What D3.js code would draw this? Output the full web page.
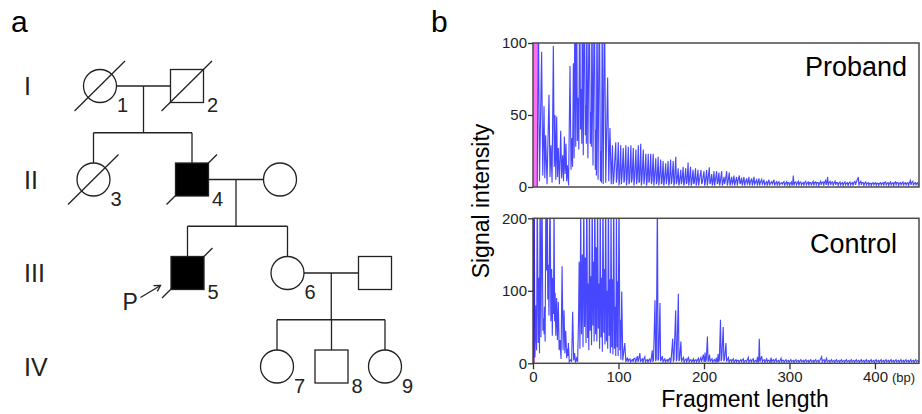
<!DOCTYPE html>
<html>
<head>
<meta charset="utf-8">
<script src="https://cdn.jsdelivr.net/npm/d3@7"></script>
<style>
  body { margin: 0; background: #fff; }
  svg { display: block; font-family: "Liberation Sans", Arial, sans-serif; }
</style>
</head>
<body>
<div id="fig"></div>
<script>
// Pedigree (panel a) and repeat-primed PCR traces (panel b)

// ---- pedigree data ----
const generations = ["I", "II", "III", "IV"];
// col is a layout slot along the row, gen is the generation index
const people = [
  { id: "1",  gen: 0, col: 1.0,   sex: "F", affected: false, dead: true },
  { id: "2",  gen: 0, col: 9.7,   sex: "M", affected: false, dead: true },
  { id: "3",  gen: 1, col: 0.35,  sex: "F", affected: false, dead: true },
  { id: "4",  gen: 1, col: 10.2,  sex: "M", affected: true,  dead: true },
  { id: "4s", gen: 1, col: 19.0,  sex: "F", affected: false, dead: false, nolabel: true },
  { id: "5",  gen: 2, col: 9.75,  sex: "M", affected: true,  dead: true, proband: true },
  { id: "6",  gen: 2, col: 19.75, sex: "F", affected: false, dead: false },
  { id: "6s", gen: 2, col: 28.5,  sex: "M", affected: false, dead: false, nolabel: true },
  { id: "7",  gen: 3, col: 18.7,  sex: "F", affected: false, dead: false },
  { id: "8",  gen: 3, col: 24.15, sex: "M", affected: false, dead: false },
  { id: "9",  gen: 3, col: 29.5,  sex: "F", affected: false, dead: false }
];
const couples = [["1", "2"], ["4", "4s"], ["6", "6s"]];
const children = [["3", "4"], ["5", "6"], ["7", "8", "9"]];

// ---- trace data (bp, signal) ----
// peak/trough vertices of the dense start of each trace
const probandHead = [
  [5,0],[6.2,135],[7.6,4],[10.1,94],[11.4,8],[12.9,56],[13.8,6],[14.8,36],[16.4,2],[18.7,64],
  [19.9,7],[21,29],[22.3,3],[23.8,98],[24.9,14],[25.7,50],[26.7,5],[27.7,49],[28.7,7],[29.6,27],
  [30.9,2],[32.4,39],[33.5,6],[34.7,22],[35.7,4],[36.7,35],[37.6,9],[38.6,30],[39.4,4],[40.2,15],
  [41.6,1],[43.3,84],[44.5,12],[45.6,34],[46.3,14],[47.2,86],[48.1,20],[49,135],[50,28],[51,140],
  [51.9,32],[52.8,62],[53.6,26],[54.6,150],[55.6,40],[56.5,68],[57.1,30],[57.7,135],[58.8,22],[60,150],
  [61.2,36],[61.9,57],[62.4,30],[62.9,125],[64.2,20],[65.8,140],[67,30],[67.8,52],[68.3,28],[68.9,130],
  [70.2,15],[71.7,145],[72.9,12],[73.6,40],[74.2,8],[74.8,130],[76.1,5],[77.6,140],[78.9,4],[79.6,25],
  [80.2,3],[80.9,120],[82.1,2],[83.6,135],[85.1,3],[87.3,76],[88.6,4],[90,41],[91.5,2]
];
// repeating tail: [bp, peak, trough, small bump]
const probandTail = [
  [93.0,29,2,5],[96.8,31,3,6],[99.8,31,1,5],[102.6,29,2,7],[105.6,27,3,5],[108.6,29,1,6],
  [111.5,28,2,4],[114.5,29,3,6],[117.3,27,1,5],[120.4,26,2,6],[123.2,29,3,4],[126.0,30,1,5],
  [129.0,26,2,6],[132.0,23,1,4],[134.8,23,3,5],[137.7,23,2,4],[140.6,23,1,5],[143.6,20,2,4],
  [146.4,21,1,5],[149.4,19,2,3],[152.2,18,1,4],[155.2,16.5,2,5],[158.0,18,1,3],[161.0,19,2,4],
  [164.0,18,1,3],[167.0,21,2,4],[169.8,13,1,3],[172.8,12,2,4],[175.6,14,1,3],[178.6,13,2,3],
  [181.4,17,1,4],[184.3,14,1,3],[187.2,12,2,3],[190.1,13,1,3],[193.0,12,1,4],[196.5,11.8,2,3],
  [200.0,11,1,3],[203.1,11.8,1,4],[206.2,13.7,2,3],[209.0,9,1,3],[211.7,11,1,4],[214.8,11,2,3],
  [217.5,10,1,3],[220.7,11,1,3],[223.4,7,2,4],[226.5,11,1,3],[229.6,10,1,3],[232.4,7,2,3],
  [235.1,8,1,3],[238.2,7,1,4],[241.3,8,2,3],[244.0,6.5,1,3],[246.8,7,1,3],[249.9,6,2,3],
  [252.6,7,1,3],[255.8,6,1,3],[258.5,7,2,3],[261.6,5,1,3],[264.3,6,1,3],[267.5,5.3,2,3],
  [270.2,5,1,2.5],[273.3,3.7,1,3],[276.0,5,1,2.5],[279.2,3.7,2,3],[281.9,5,1,2.5],[285.0,3.7,1,3],
  [287.7,3.7,1,2.5],[290.9,3,2,3],[293.6,3.7,1,2.5],[296.7,3.7,1,3],[299.4,3,1,2.5],[302.2,3.5,1,2.5],
  [304.5,8,1,3],[307.4,3.5,1.5,2.5],[310.3,4,1,3],[313.2,3.5,1.5,2.5],[316.1,3,1,3],[319.0,4,1.5,2.5],
  [321.9,3.5,1,3],[324.8,3,1.5,2.5],[327.7,4,1,3],[330.6,3.5,1.5,3],[333.5,3,1,2.5],[336.4,4,1.5,3],
  [339.3,3.5,1,3],[342.2,4.5,1.5,3],[344.6,7,1,3],[347.5,4,1.5,3],[350.4,3.5,1,2.5],[353.3,4,1.5,3],
  [356.2,3,1,2.5],[359.1,3.5,1.5,2.5],[362.0,3,1,2.5],[364.9,3.5,1.5,2.5],[367.8,3,1,2.5],[370.7,3.5,1.5,2.5],
  [373.6,3,1,3],[376.5,4,1.5,3],[380.5,7,1,3],[383.4,4,1.5,3],[386.3,3,1,2.5],[389.2,3.5,1.5,2.5],
  [392.1,3,1,2.5],[395.0,2.5,1,2.5],[397.9,3,1.5,2.5],[400.8,3,1,2.5],[403.7,2.5,1,2.5],[406.6,3,1.5,2.5],
  [409.5,3,1,3],[412.4,3.5,1.5,2.5],[415.3,3,1,2.5],[418.2,3.5,1.5,2.5],[421.1,3,1,2.5],[424.0,3.5,1.5,3],
  [426.9,3,1,2.5],[429.8,3,1.5,2.5],[432.7,3.5,1,2.5],[435.6,3,1.5,2.5],[438.5,3,1,2.5],[441.4,4.5,1.5,3],
  [444.3,4,1,2.5],[447.2,3,1.5,2.5],[450.0,3,1,2]
];

const controlHead = [
  [0.6,0],[1.2,260],[2.3,8],[3.5,80],[4.2,18],[5,250],[6.1,28],[7,118],[7.6,14],[8.3,260],
  [9.3,36],[10.5,250],[11.6,45],[12.4,62],[13.0,40],[13.4,78],[14.2,30],[15.2,260],[16,128],[16.7,240],
  [17.3,88],[17.9,136],[18.7,66],[19.9,250],[20.9,58],[21.8,130],[22.6,38],[23.3,118],[24,68],[24.6,230],
  [25.3,58],[25.9,97],[26.7,38],[27.6,90],[28.6,32],[29.6,85],[30.6,18],[31.6,32],[32.8,6],[34,134],
  [35.2,18],[36.3,73],[37.3,14],[38.3,45],[39.4,7],[40.3,20],[40.8,10],[41.4,28],[42.4,2],[44.4,5],
  [45.2,2],[46.4,71],[47.6,4],[48.6,14],[49.8,1],[51,7],[52.2,2],[53.3,62],[54,140],[54.9,20],
  [55.8,215],[56.7,40],[57.7,150],[58.5,22],[59.4,232],[60.3,50],[61.2,146],[62,28],[62.9,250],[63.8,35],
  [64.7,110],[65.3,18],[66,240],[66.9,45],[67.8,120],[68.5,25],[69.2,250],[70.1,52],[70.8,140],[71.5,30],
  [72.3,250],[73.2,40],[74,160],[74.7,30],[75.5,240],[76.4,48],[77.2,110],[77.9,20],[78.6,230],[79.6,36],
  [80.4,118],[81.1,16],[81.8,250],[82.8,42],[83.6,130],[84.2,26],[85,250],[85.9,30],[86.7,100],[87.4,20],
  [88.2,240],[89.1,38],[89.8,116],[90.5,14],[91.3,220],[92.1,22],[92.8,116],[93.5,12],[94.4,250],[95.3,20],
  [96.1,78],[96.8,10],[97.6,210],[98.4,22],[99,113],[99.6,10],[100.6,240],[101.6,18],[102.2,60],[102.8,5],
  [103.8,99],[105,4],[107.4,28],[108.6,2]
];
const controlTail = [
  [110.5,8,2,5],[113.4,6,1,4],[116.3,5,2,6],[119.2,7,1,4],[122.1,10,2,5],[125.0,14,2,4],
  [127.9,6,1,5],[130.8,9,2,4],[133.7,5,1,4],[136.6,6,2,3],[139.5,18,2,5],[142.7,87,3,6],
  [145.5,230,4,6],[148.5,83,3,5],[151.3,10,2,4],[154.2,6,1,4],[157.1,5,2,5],[160.0,7,1,4],
  [163.4,34,2,5],[166.9,73,3,6],[170.0,96,3,5],[173.0,30,2,5],[176.0,8,1,4],[179.0,6,2,4],
  [181.9,9,1,4],[184.8,5,2,3],[187.7,6,1,4],[190.6,5,2,4],[193.5,7,1,4],[196.4,8,2,5],
  [199.3,12,2,4],[201.2,15,2,5],[204.0,37,2,5],[206.5,12,2,4],[209.4,6,1,4],[212.3,5,2,4],
  [214.5,8,1,4],[216.5,13,2,5],[219.3,60,3,6],[222.5,50,3,5],[225.7,28,2,5],[228.6,8,1,4],
  [231.5,5,2,4],[234.4,6,1,3],[237.3,5,2,4],[240.2,4,1,3],[243.1,5,2,4],[246.0,6,1,3],
  [248.9,4,2,4],[251.8,8,1,3],[254.7,5,2,4],[257.6,6,1,3],[260.5,4,2,4],[262.5,9,1,4],
  [264.7,34,2,5],[267.5,10,2,4],[270.4,5,1,3],[273.3,6,2,4],[276.2,4,1,3],[278.5,8,2,4],
  [281.4,5,1,3],[284.3,6,2,3],[287.2,4,1,3],[290.1,7,2,4],[293.0,4,1,3],[295.9,5,2,3],
  [298.8,4,1,3],[301.7,5,2,3],[304.6,4,1,3],[307.5,5,2,3],[310.4,4,1,3],[313.3,5,2,3],
  [316.2,4,1,3],[319.1,5,2,3],[322.0,4,1,3],[324.9,5,2,3],[327.8,4,1,3],[330.7,5,2,3],
  [333.6,4,1,3],[337.6,9,2,4],[340.5,5,1,3],[343.4,7,2,3],[346.3,4,1,3],[349.2,5,2,3],
  [352.1,4,1,3],[355.0,5,2,3],[357.9,4,1,3],[360.8,5,2,3],[363.7,4,1,3],[366.6,5,2,3],
  [369.5,4,1,3],[372.4,5,2,3],[375.3,4,1,3],[378.2,5,2,3],[381.1,4,1,3],[384.0,5,2,3],
  [386.9,4,1,3],[389.8,5,2,3],[392.7,4,1,3],[395.6,5,2,3],[398.5,4,1,3],[401.4,5,2,3],
  [404.3,4,1,3],[407.2,5,2,3],[410.1,4,1,3],[413.0,5,2,3],[415.9,4,1,3],[418.8,5,2,3],
  [421.7,4,1,3],[424.6,5,2,3],[427.5,4,1,3],[430.4,5,2,3],[433.3,4,1,3],[436.2,5,2,3],
  [439.1,4,1,3],[442.0,5,2,3],[444.9,4,1,3],[447.8,5,2,3],[450.5,4,1,2]
];

const xTicks = [0, 100, 200, 300, 400];
const probandTicks = [0, 50, 100];
const controlTicks = [0, 100, 200];

const width = 922, height = 414;
const font = '"Liberation Sans", Arial, sans-serif';

const svg = d3.select("#fig").append("svg")
  .attr("width", width)
  .attr("height", height)
  .attr("viewBox", `0 0 ${width} ${height}`);

svg.append("rect").attr("width", width).attr("height", height).attr("fill", "#fff");

// panel letters
svg.append("text").attr("x", 11).attr("y", 32).attr("font-size", 30).text("a");
svg.append("text").attr("x", 431).attr("y", 32).attr("font-size", 30).text("b");

// ---------------- panel a: pedigree ----------------
const pedX = d3.scaleLinear([0, 30], [90, 390]);
const pedY = d3.scaleLinear([0, 3], [86, 366.5]);
const r = 16.5;
const ink = "#222";
const byId = new Map(people.map(d => [d.id, d]));
const px = d => pedX(d.col), py = d => pedY(d.gen);

const ped = svg.append("g")
  .attr("stroke", ink)
  .attr("stroke-width", 1.3)
  .attr("fill", "none");

ped.selectAll("text.gen")
  .data(generations)
  .join("text")
    .attr("class", "gen")
    .attr("x", 24)
    .attr("y", (d, i) => pedY(i) + 9)
    .attr("font-size", 25)
    .attr("fill", ink)
    .attr("stroke", "none")
    .text(d => d);

// marriage lines and lines of descent
couples.forEach(([a, b], i) => {
  const A = byId.get(a), B = byId.get(b);
  const y = py(A);
  ped.append("line").attr("x1", px(A) + r).attr("x2", px(B) - r).attr("y1", y).attr("y2", y);
  const mid = (px(A) + px(B)) / 2;
  const kids = children[i].map(id => byId.get(id));
  const sibY = (y + py(kids[0])) / 2;
  ped.append("line").attr("x1", mid).attr("x2", mid).attr("y1", y).attr("y2", sibY);
  ped.append("line")
    .attr("x1", d3.min(kids, px)).attr("x2", d3.max(kids, px))
    .attr("y1", sibY).attr("y2", sibY);
  kids.forEach(k => {
    ped.append("line").attr("x1", px(k)).attr("x2", px(k)).attr("y1", sibY).attr("y2", py(k) - r);
  });
});

// individuals
const ind = ped.selectAll("g.ind")
  .data(people)
  .join("g")
    .attr("class", "ind")
    .attr("transform", d => `translate(${px(d)},${py(d)})`);

const slash = sel => sel.append("line")
  .attr("x1", -25.5).attr("y1", 25).attr("x2", 25).attr("y2", -25);

// filled symbols hide the middle of their slash
slash(ind.filter(d => d.dead && d.affected));
ind.filter(d => d.sex === "F").append("circle")
  .attr("r", r)
  .attr("fill", d => d.affected ? "#000" : "#fff");
ind.filter(d => d.sex === "M").append("rect")
  .attr("x", -r).attr("y", -r).attr("width", 2 * r).attr("height", 2 * r)
  .attr("fill", d => d.affected ? "#000" : "#fff");
slash(ind.filter(d => d.dead && !d.affected));

ind.filter(d => !d.nolabel).append("text")
  .attr("x", d => d.sex === "F" ? 17 : 20)
  .attr("y", 26)
  .attr("font-size", 20)
  .attr("fill", ink)
  .attr("stroke", "none")
  .text(d => d.id);

// proband arrow
const pb = ind.filter(d => d.proband);
pb.append("line").attr("x1", -47).attr("y1", 24.5).attr("x2", -27).attr("y2", 12.5);
pb.append("path").attr("d", "M-34,12.6L-27,12.5L-30.2,18.4");
pb.append("text")
  .attr("x", -65).attr("y", 36.5)
  .attr("font-size", 23)
  .attr("fill", ink)
  .attr("stroke", "none")
  .text("P");

// ---------------- panel b: traces ----------------
const x = d3.scaleLinear([0, 451.5], [533, 919]);
const plots = [
  { name: "Proband", head: probandHead, tail: probandTail, ticks: probandTicks,
    y: d3.scaleLinear([0, 100], [187, 43]), labelX: 907, labelY: 76 },
  { name: "Control", head: controlHead, tail: controlTail, ticks: controlTicks,
    y: d3.scaleLinear([0, 200], [363.3, 218.3]), labelX: 897, labelY: 253 }
];

plots.forEach((p, i) => {
  const [y0, y1] = p.y.range();
  const g = svg.append("g");
  const clipId = "clip" + i;
  svg.append("clipPath").attr("id", clipId)
    .append("rect")
      .attr("x", x(0)).attr("y", y1)
      .attr("width", x.range()[1] - x(0)).attr("height", y0 - y1);

  if (i === 0) {
    g.append("rect")
      .attr("x", x(0)).attr("y", y1)
      .attr("width", x(5) - x(0)).attr("height", y0 - y1)
      .attr("fill", "#ff70ee");
  } else {
    g.append("line")
      .attr("x1", x(0) + 0.8).attr("x2", x(0) + 0.8)
      .attr("y1", y1).attr("y2", y0)
      .attr("stroke", "#a3107c").attr("stroke-width", 1.6);
  }

  // build the trace: head vertices then tail rows (peak, trough, bump)
  const pts = p.head.slice();
  p.tail.forEach(([bp, pk, lo, bu]) => {
    pts.push([bp, pk], [bp + 0.75, lo], [bp + 1.5, bu]);
  });
  const line = d3.line().x(d => x(d[0])).y(d => p.y(d[1]));

  g.append("path")
    .datum(pts)
    .attr("clip-path", `url(#${clipId})`)
    .attr("fill", "none")
    .attr("stroke", "#0000ff")
    .attr("stroke-opacity", 0.72)
    .attr("stroke-width", 1.15)
    .attr("stroke-linejoin", "miter")
    .attr("d", line);

  // frame
  g.append("rect")
    .attr("x", x(0)).attr("y", y1)
    .attr("width", x.range()[1] - x(0)).attr("height", y0 - y1)
    .attr("fill", "none")
    .attr("stroke", "#4a4a4a")
    .attr("stroke-width", 1.5);

  const ax = g.append("g")
    .attr("transform", `translate(${x(0)},0)`)
    .call(d3.axisLeft(p.y).tickValues(p.ticks).tickSize(5).tickPadding(1));
  ax.select(".domain").remove();
  ax.selectAll("line").attr("stroke", "#333").attr("stroke-width", 1.3);
  ax.selectAll("text").attr("font-size", 15).attr("font-family", font).attr("fill", "#222");

  g.append("text")
    .attr("x", p.labelX).attr("y", p.labelY)
    .attr("text-anchor", "end")
    .attr("font-size", 27)
    .text(p.name);

  if (i === 1) {
    const bx = g.append("g")
      .attr("transform", `translate(0,${y0})`)
      .call(d3.axisBottom(x).tickValues(xTicks).tickSize(6).tickPadding(2));
    bx.select(".domain").remove();
    bx.selectAll("line").attr("stroke", "#333").attr("stroke-width", 1.3);
    bx.selectAll("text").attr("font-size", 15).attr("font-family", font).attr("fill", "#222");
    g.append("text")
      .attr("x", x(400) + 17).attr("y", y0 + 18.5)
      .attr("font-size", 13)
      .attr("fill", "#222")
      .text("(bp)");
  }
});

svg.append("text")
  .attr("transform", "translate(489,201) rotate(-90)")
  .attr("text-anchor", "middle")
  .attr("font-size", 23)
  .text("Signal intensity");

svg.append("text")
  .attr("x", 745).attr("y", 407)
  .attr("text-anchor", "middle")
  .attr("font-size", 23)
  .text("Fragment length");
</script>
</body>
</html>
